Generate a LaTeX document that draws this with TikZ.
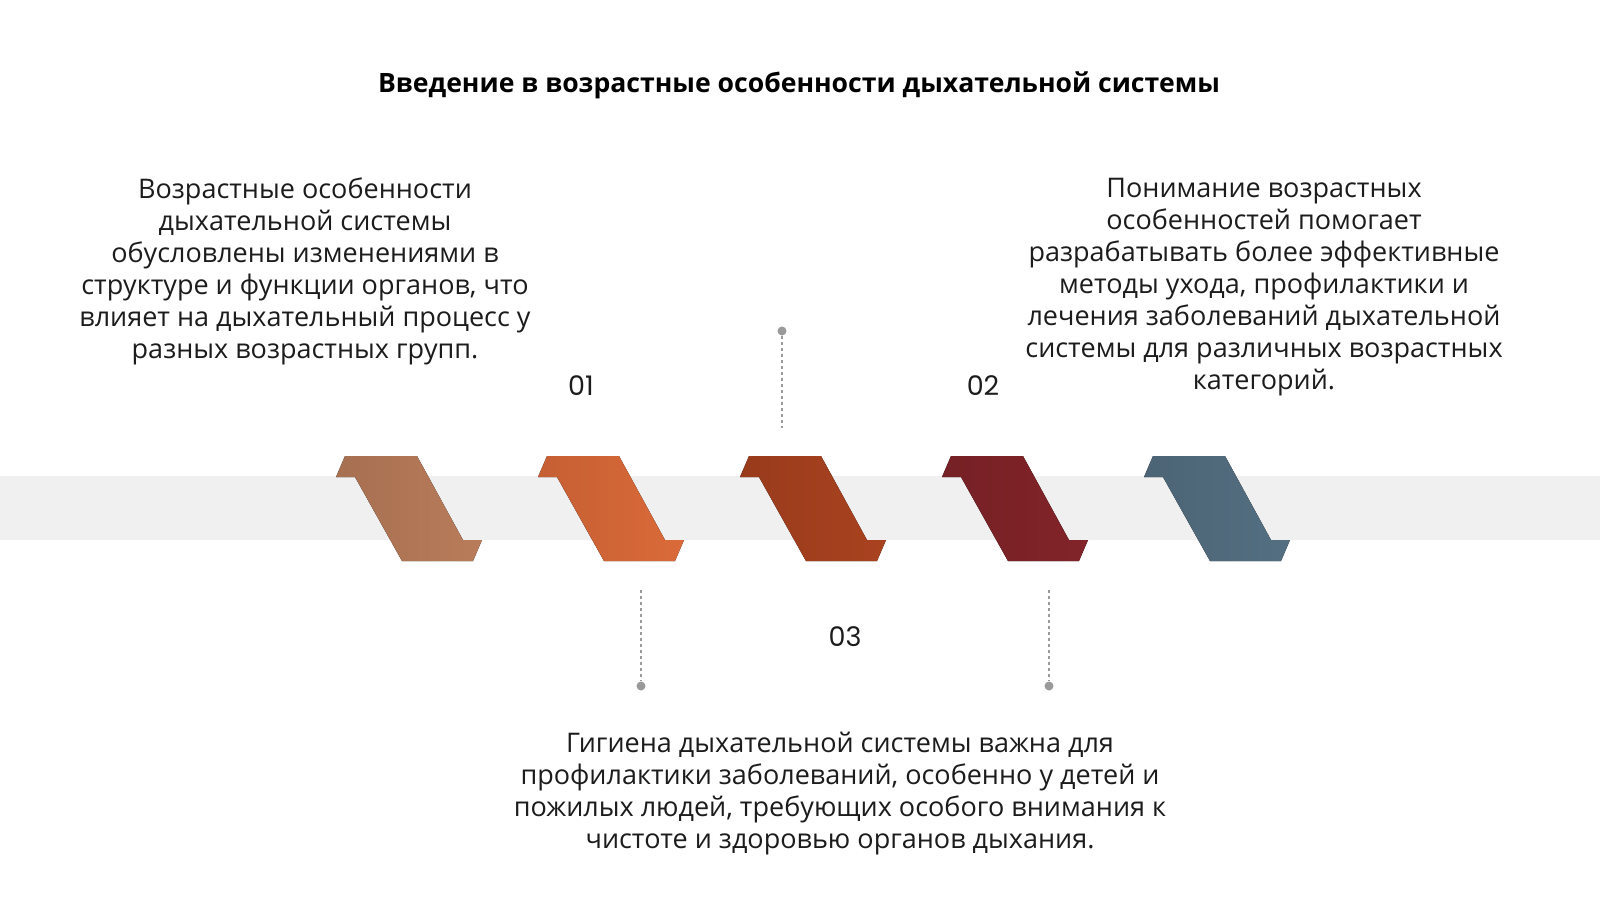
\documentclass[tikz,border=0pt]{standalone}
\usepackage{fontspec}
\setmainfont{Open Sans}
\newfontfamily\numfont{Poppins}
\definecolor{bandgray}{HTML}{F0F0F0}
\definecolor{txt}{HTML}{1C1C1C}
\definecolor{cA}{HTML}{B97C5A}
\definecolor{cB}{HTML}{DB6A39}
\definecolor{cC}{HTML}{A9421F}
\definecolor{cD}{HTML}{822429}
\definecolor{cE}{HTML}{546F82}
\definecolor{dotgray}{HTML}{9A9A9A}
\tikzset{
  bodytext/.style={align=center, text=txt, font=\fontsize{27}{32}\selectfont, inner sep=0pt},
  numtext/.style={text=txt, font=\numfont\fontsize{27}{30}\selectfont, inner sep=0pt},
  dotline/.style={draw=dotgray, line width=1.6pt, dash pattern=on 3pt off 3pt},
  dotend/.style={circle, fill=dotgray, minimum size=9pt, inner sep=0pt}
}
\newcommand{\chev}[2]{%
  \fill[left color=#2!90!black, right color=#2] (#1,456) -- ++(72,0) -- ++(46,84) -- ++(19,0) -- ++(-9,21) -- ++(-71,0) -- ++(-47,-84) -- ++(-19,0) -- cycle;}
\begin{document}
\begin{tikzpicture}[x=1pt,y=-1pt]
\useasboundingbox (0,0) rectangle (1600,900);
\fill[white] (0,0) rectangle (1600,900);
\fill[bandgray] (0,476) rectangle (1600,540);
% chevrons
\chev{345}{cA}
\chev{547}{cB}
\chev{749}{cC}
\chev{951}{cD}
\chev{1153}{cE}
% title
\node[text=black, font=\bfseries\fontsize{26.6}{30}\selectfont] (title) at (799,85) {Введение в возрастные особенности дыхательной системы};
% connectors
\node[dotend] (d1) at (782,331) {};
\coordinate (e1) at (782,428);
\draw[dotline] (d1) -- (e1);
\node[dotend] (d2) at (641,686) {};
\coordinate (e2) at (641,590);
\draw[dotline] (e2) -- (d2);
\node[dotend] (d3) at (1049,686) {};
\coordinate (e3) at (1049,590);
\draw[dotline] (e3) -- (d3);
% numbers
\node[numtext] (n1) at (581,386) {01};
\node[numtext] (n2) at (983,386) {02};
\node[numtext] (n3) at (845,637) {03};
% texts
\node[bodytext] (t1) at (305,271) {Возрастные особенности\\дыхательной системы\\обусловлены изменениями в\\структуре и функции органов, что\\влияет на дыхательный процесс у\\разных возрастных групп.};
\node[bodytext] (t2) at (1264,287) {Понимание возрастных\\особенностей помогает\\разрабатывать более эффективные\\методы ухода, профилактики и\\лечения заболеваний дыхательной\\системы для различных возрастных\\категорий.};
\node[bodytext] (t3) at (840,794) {Гигиена дыхательной системы важна для\\профилактики заболеваний, особенно у детей и\\пожилых людей, требующих особого внимания к\\чистоте и здоровью органов дыхания.};
\end{tikzpicture}
\end{document}
